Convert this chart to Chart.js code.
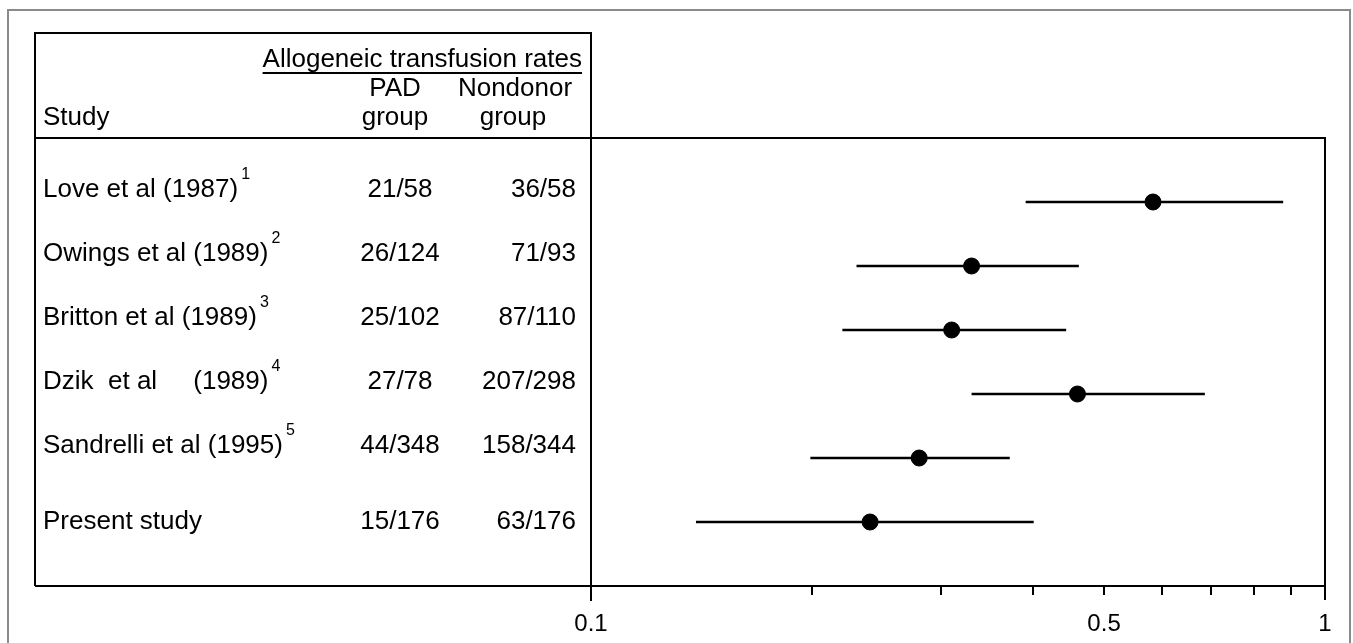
<!DOCTYPE html>
<html>
<head>
<meta charset="utf-8">
<script src="https://cdn.jsdelivr.net/npm/chart.js@4.4.1/dist/chart.umd.min.js"></script>
<style>
  body { margin: 0; background: #fff; }
  #wrap { width: 1353px; height: 643px; position: relative; }
</style>
</head>
<body>
<div id="wrap"><canvas id="forest"></canvas></div>
<script>
// Study rows (top to bottom)
const studies = ["Love et al (1987)", "Owings et al (1989)", "Britton et al (1989)",
  "Dzik  et al     (1989)", "Sandrelli et al (1995)", "Present study"];
const refNumbers = ["1", "2", "3", "4", "5", ""];
const padRates = ["21/58", "26/124", "25/102", "27/78", "44/348", "15/176"];
const nondonorRates = ["36/58", "71/93", "87/110", "207/298", "158/344", "63/176"];

// odds ratio and 95% CI
const estimates = [0.583, 0.330, 0.310, 0.460, 0.280, 0.240];
const ciLow = [0.391, 0.230, 0.220, 0.330, 0.199, 0.139];
const ciHigh = [0.877, 0.462, 0.444, 0.686, 0.372, 0.401];

const xTickValues = [0.1, 0.2, 0.3, 0.4, 0.5, 0.6, 0.7, 0.8, 0.9, 1];
const xTickLabels = [0.1, 0.5, 1];

const FONT = "Arial, 'Liberation Sans', Helvetica, sans-serif";

// one line dataset per confidence interval
const ciSets = studies.map((s, i) => ({
  type: "line",
  data: [{ x: ciLow[i], y: i + 1 }, { x: ciHigh[i], y: i + 1 }],
  borderColor: "#000",
  borderWidth: 2.6,
  pointRadius: 0,
  fill: false,
}));

// table + frame drawn around the plot
const tablePlugin = {
  id: "tablePlugin",
  afterDraw(chart) {
    const { ctx, chartArea, scales } = chart;
    const y = scales.y;
    const L = 35, T = 33, R = chartArea.left, B = chartArea.bottom;
    ctx.save();

    // outer gray frame
    ctx.strokeStyle = "#8a8a8a";
    ctx.lineWidth = 2;
    ctx.beginPath();
    ctx.moveTo(8, 650); ctx.lineTo(8, 10); ctx.lineTo(1350, 10); ctx.lineTo(1350, 650);
    ctx.stroke();

    // table box and plot frame
    ctx.strokeStyle = "#000";
    ctx.lineWidth = 2;
    ctx.beginPath();
    ctx.moveTo(L, B); ctx.lineTo(L, T); ctx.lineTo(R, T); ctx.lineTo(R, B + 15);
    ctx.moveTo(L, chartArea.top); ctx.lineTo(chartArea.right, chartArea.top);
    ctx.lineTo(chartArea.right, B + 14);
    ctx.moveTo(L, B); ctx.lineTo(R, B);
    ctx.stroke();

    // headers
    ctx.fillStyle = "#000";
    ctx.font = "26px " + FONT;
    ctx.textBaseline = "middle";
    ctx.textAlign = "right";
    const head = "Allogeneic transfusion rates";
    ctx.fillText(head, 582, 60);
    const hw = ctx.measureText(head).width;
    ctx.fillRect(582 - hw, 72, hw, 2);
    ctx.textAlign = "center";
    ctx.fillText("PAD", 395, 89);
    ctx.fillText("group", 395, 118);
    ctx.fillText("Nondonor", 515, 89);
    ctx.fillText("group", 513, 118);
    ctx.textAlign = "left";
    ctx.fillText("Study", 43, 118);

    // rows
    const nudge = [-12, -12, -12, -12, -12, 0];
    studies.forEach((s, i) => {
      const ty = y.getPixelForValue(i + 1) + nudge[i];
      ctx.font = "26px " + FONT;
      ctx.textAlign = "left";
      ctx.fillText(s, 43, ty);
      const w = ctx.measureText(s).width;
      ctx.textAlign = "center";
      ctx.fillText(padRates[i], 400, ty);
      ctx.textAlign = "right";
      ctx.fillText(nondonorRates[i], 576, ty);
      if (refNumbers[i]) {
        ctx.font = "16px " + FONT;
        ctx.textAlign = "left";
        ctx.fillText(refNumbers[i], 43 + w + 3, ty - 15);
      }
    });
    ctx.restore();
  },
};

new Chart(document.getElementById("forest"), {
  type: "scatter",
  data: {
    datasets: [
      ...ciSets,
      {
        type: "scatter",
        data: estimates.map((v, i) => ({ x: v, y: i + 1 })),
        backgroundColor: "#000",
        borderColor: "#000",
        pointRadius: 8,
      },
    ],
  },
  options: {
    responsive: true,
    maintainAspectRatio: false,
    animation: false,
    layout: { padding: { left: 591, right: 28, top: 138, bottom: 0 } },
    plugins: { legend: { display: false }, tooltip: { enabled: false } },
    scales: {
      x: {
        type: "logarithmic",
        min: 0.1,
        max: 1,
        afterBuildTicks: (axis) => { axis.ticks = xTickValues.map((v) => ({ value: v })); },
        afterFit: (axis) => { axis.height = 57; },
        border: { display: true, color: "#000", width: 2 },
        grid: { drawOnChartArea: false, drawTicks: true, tickLength: 9, color: "#000", lineWidth: 2 },
        ticks: {
          autoSkip: false,
          maxRotation: 0,
          padding: 15,
          color: "#000",
          font: { family: FONT, size: 24 },
          callback: (v) => (xTickLabels.includes(+Number(v).toFixed(3)) ? String(+Number(v).toFixed(3)) : ""),
        },
      },
      y: {
        type: "linear",
        reverse: true,
        min: 0,
        max: 7,
        display: false,
      },
    },
  },
  plugins: [tablePlugin],
});
</script>
</body>
</html>
